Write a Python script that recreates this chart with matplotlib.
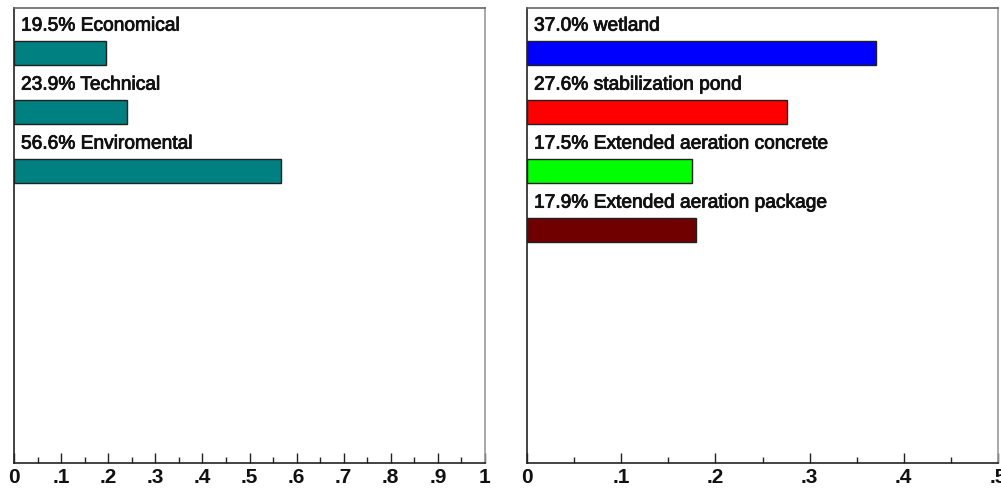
import numpy as np
import matplotlib.pyplot as plt
import matplotlib.patheffects as pe
from matplotlib.ticker import MultipleLocator, FuncFormatter

# === DATA ===
criteria = ["Economical", "Technical", "Enviromental"]
criteria_share = [0.195, 0.239, 0.566]
criteria_colors = ["#008080", "#008080", "#008080"]

options = ["wetland", "stabilization pond", "Extended aeration concrete",
           "Extended aeration package"]
options_share = [0.370, 0.276, 0.175, 0.179]
options_colors = ["#0000ff", "#ff0000", "#00ff00", "#700000"]

left_ticks = [0, .1, .2, .3, .4, .5, .6, .7, .8, .9, 1]
right_ticks = [0, .1, .2, .3, .4, .5]

plt.rcParams["font.family"] = ["Liberation Sans", "DejaVu Sans"]


def tick_fmt(v, pos):
    s = f"{v:g}"
    if s.startswith("0."):
        s = s[1:]
    return s


def draw_panel(ax, names, shares, colors, ticks):
    ypos = np.arange(len(names))
    ax.barh(ypos, shares, height=0.42, color=colors, edgecolor="#202020", linewidth=1)
    for y, name, v in zip(ypos, names, shares):
        t = ax.annotate(f"{v * 100:.1f}% {name}", xy=(0, y - 0.21), xytext=(7, 10),
                        textcoords="offset pixels", fontsize=13.8, va="baseline",
                        ha="left", color="#111111")
        t.set_path_effects([pe.withStroke(linewidth=0.6, foreground="#111111")])
    ax.set_xlim(ticks[0], ticks[-1])
    ax.set_ylim(6.949, -0.763)
    ax.set_xticks(ticks)
    ax.xaxis.set_major_formatter(FuncFormatter(tick_fmt))
    ax.xaxis.set_minor_locator(MultipleLocator(0.05))
    ax.tick_params(axis="x", which="major", direction="in", length=7.5, width=1,
                   pad=3.5, labelsize=15, colors="#222222")
    ax.tick_params(axis="x", which="minor", direction="in", length=4, width=1,
                   colors="#222222")
    for lab in ax.get_xticklabels():
        lab.set_fontweight("bold")
        lab.set_color("#111111")
    ax.set_yticks([])
    ax.spines["left"].set_color("#222222")
    ax.spines["bottom"].set_color("#222222")
    ax.spines["top"].set_color("#666666")
    ax.spines["right"].set_color("#999999")
    for sp in ax.spines.values():
        sp.set_linewidth(1.2)


fig = plt.figure(figsize=(10.01, 4.88), dpi=100)
ax1 = fig.add_axes([14 / 1001, 25 / 488, 471 / 1001, 455 / 488])
ax2 = fig.add_axes([527 / 1001, 25 / 488, 471 / 1001, 455 / 488])

draw_panel(ax1, criteria, criteria_share, criteria_colors, left_ticks)
draw_panel(ax2, options, options_share, options_colors, right_ticks)

fig.savefig("out.png", dpi=100)
